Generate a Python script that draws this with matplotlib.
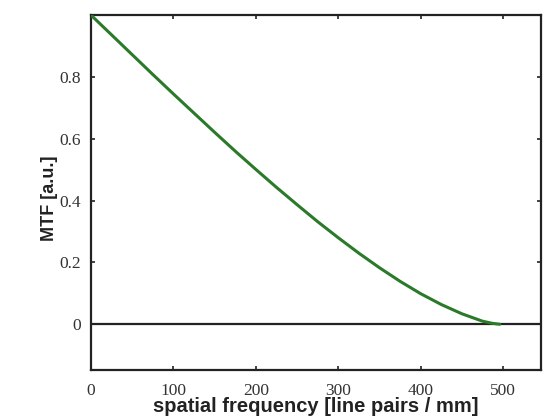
import matplotlib
matplotlib.use("Agg")
import matplotlib.pyplot as plt

# spatial frequency [line pairs / mm] and MTF values
freq = [0, 25, 50, 75, 100, 125, 150, 175, 200, 225, 250, 275, 300,
        325, 350, 375, 400, 425, 450, 475, 487, 496]
mtf = [1.000, 0.936, 0.872, 0.808, 0.745, 0.683, 0.621, 0.560, 0.501,
       0.443, 0.387, 0.332, 0.280, 0.230, 0.183, 0.139, 0.099, 0.064,
       0.034, 0.010, 0.003, 0.000]

xticks = [0, 100, 200, 300, 400, 500]
yticks = [0, 0.2, 0.4, 0.6, 0.8]
ytick_labels = ["0", "0.2", "0.4", "0.6", "0.8"]

fig = plt.figure(figsize=(5.5, 4.18), dpi=100)
ax = fig.add_axes([0.1655, 0.1148, 0.818, 0.849])

ax.axhline(0, color="#222222", lw=1.6, zorder=2)
ax.plot(freq, mtf, color="#2a7a2a", lw=2.2, zorder=3,
        solid_joinstyle="round", solid_capstyle="round")

ax.set_xlim(0, 546)
ax.set_ylim(-0.148, 1.0)
ax.set_xticks(xticks)
ax.set_xticklabels([str(t) for t in xticks])
ax.set_yticks(yticks)
ax.set_yticklabels(ytick_labels)

for sp in ax.spines.values():
    sp.set_linewidth(1.6)
    sp.set_color("#222222")

ax.tick_params(direction="in", length=3, width=1.2, top=True, right=True,
               colors="#222222", labelcolor="#333333")
for lab in ax.get_xticklabels() + ax.get_yticklabels():
    lab.set_fontfamily("Liberation Serif")
    lab.set_fontsize(12.5)
ax.tick_params(axis="x", pad=9)
ax.tick_params(axis="y", pad=7)

ax.set_xlabel("spatial frequency [line pairs / mm]", fontfamily="Liberation Sans",
              fontweight="bold", fontsize=14.5, color="#222222")
ax.xaxis.set_label_coords(0.5, -0.077)
ax.set_ylabel("MTF [a.u.]", fontfamily="Liberation Sans", fontweight="bold",
              fontsize=13, color="#222222")
ax.yaxis.set_label_coords(-0.074, 0.485)

fig.savefig("out.png", dpi=100)
